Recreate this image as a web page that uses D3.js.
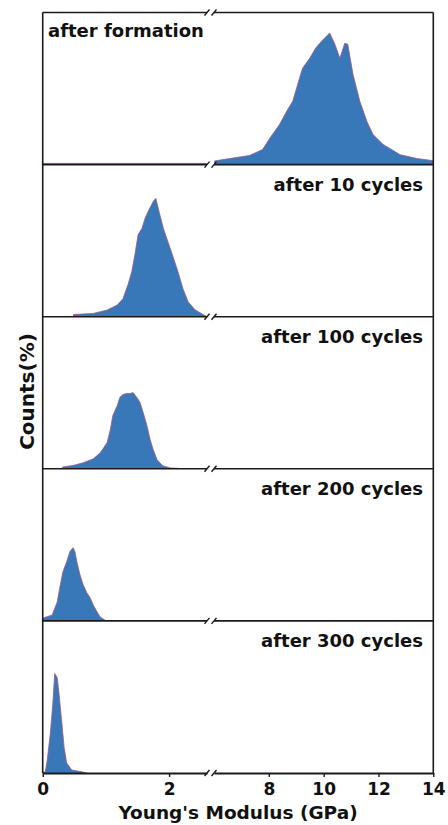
<!DOCTYPE html>
<html>
<head>
<meta charset="utf-8">
<script src="https://cdn.jsdelivr.net/npm/d3@7"></script>
<style>
  html, body { margin: 0; padding: 0; background: #fff; }
  svg text { font-family: "DejaVu Sans", sans-serif; font-weight: bold; fill: #111; }
</style>
</head>
<body>
<svg id="chart" width="448" height="825"></svg>
<script>
// ---- data ----
const panelLabels = ["after formation", "after 10 cycles", "after 100 cycles", "after 200 cycles", "after 300 cycles"];
const leftTicks = [0, 2];
const rightTicks = [8, 10, 12, 14];
const leftDomain = [0, 2.6];
const rightDomain = [6, 14];

const formationX = [0, 2.6, 6.01, 6.56, 7.29, 7.77, 8.03, 8.39, 8.65, 8.87, 9.12, 9.23, 9.49, 9.71, 9.93, 10.22, 10.41, 10.59, 10.77, 10.88, 11.07, 11.32, 11.58, 11.80, 12.17, 12.79, 13.41, 14];
const formationY = [0.04, 0.04, 0.12, 0.2, 0.3, 0.5, 0.87, 1.33, 1.77, 2.1, 2.87, 3.2, 3.53, 3.87, 4.1, 4.37, 4.0, 3.53, 4.03, 4.0, 3.0, 2.1, 1.43, 1.0, 0.67, 0.33, 0.2, 0.13];

const cycles10X = [0.48, 0.80, 1.02, 1.18, 1.27, 1.35, 1.41, 1.46, 1.51, 1.57, 1.62, 1.67, 1.75, 1.79, 1.84, 1.91, 1.98, 2.05, 2.14, 2.22, 2.30, 2.41, 2.54, 2.6];
const cycles10Y = [0.07, 0.11, 0.22, 0.39, 0.6, 1.07, 1.5, 2.07, 2.73, 2.93, 3.27, 3.5, 3.83, 3.93, 3.5, 2.93, 2.5, 2.07, 1.5, 0.93, 0.5, 0.23, 0.07, 0];

const cycles100X = [0.31, 0.48, 0.64, 0.80, 0.91, 1.02, 1.07, 1.11, 1.18, 1.22, 1.27, 1.33, 1.38, 1.43, 1.49, 1.54, 1.59, 1.65, 1.70, 1.75, 1.81, 1.90, 2.02, 2.17];
const cycles100Y = [0.06, 0.11, 0.2, 0.33, 0.53, 0.87, 1.3, 1.77, 2.1, 2.37, 2.47, 2.5, 2.5, 2.53, 2.37, 2.2, 1.87, 1.43, 0.97, 0.63, 0.3, 0.1, 0.03, 0.01];

const cycles200X = [0, 0.07, 0.15, 0.23, 0.27, 0.32, 0.38, 0.43, 0.48, 0.51, 0.54, 0.59, 0.64, 0.70, 0.75, 0.80, 0.86, 0.91, 0.99];
const cycles200Y = [0.09, 0.14, 0.2, 0.63, 1.1, 1.63, 1.97, 2.3, 2.43, 2.3, 1.97, 1.53, 1.2, 0.93, 0.77, 0.53, 0.3, 0.13, 0.02];

const cycles300X = [0, 0.04, 0.07, 0.12, 0.16, 0.19, 0.23, 0.26, 0.30, 0.34, 0.38, 0.46, 0.64, 0.70];
const cycles300Y = [0.03, 0.03, 0.4, 1.3, 2.3, 3.3, 3.17, 2.6, 1.73, 0.83, 0.33, 0.1, 0.03, 0];

const seriesX = [formationX, cycles10X, cycles100X, cycles200X, cycles300X];
const seriesY = [formationY, cycles10Y, cycles100Y, cycles200Y, cycles300Y];

// ---- layout ----
const svg = d3.select("#chart");
const L = 42.7, R = 433.3, T = 12.5, B = 773;
const breakL = 207, breakR = 214;
const xLeft = d3.scaleLinear().domain(leftDomain).range([L, breakL]);
const xRight = d3.scaleLinear().domain(rightDomain).range([breakR, R]);
const band = d3.scaleBand().domain(d3.range(panelLabels.length)).range([T, B]).padding(0);
const yMax = 5.05;

const fillColor = "#3878b8";
const edgeColor = "#9a5a8c";

panelLabels.forEach((label, i) => {
  const top = band(i), bottom = top + band.bandwidth();
  const y = d3.scaleLinear().domain([0, yMax]).range([bottom, top]);
  const pts = seriesX[i].map((x, k) => ({ x, v: seriesY[i][k] }));
  const segs = [
    { data: pts.filter(p => p.x <= leftDomain[1]), sx: xLeft },
    { data: pts.filter(p => p.x >= rightDomain[0]), sx: xRight }
  ];
  segs.forEach(s => {
    if (s.data.length < 2) return;
    const area = d3.area().x(p => s.sx(p.x)).y0(bottom).y1(p => y(p.v));
    const line = d3.line().x(p => s.sx(p.x)).y(p => y(p.v));
    svg.append("path").attr("d", area(s.data)).attr("fill", fillColor);
    svg.append("path").attr("d", line(s.data)).attr("fill", "none")
      .attr("stroke", edgeColor).attr("stroke-width", 0.8);
  });
  const t = svg.append("text").text(label).attr("font-size", 18)
    .attr("y", top + (i === 0 ? 24 : 26));
  if (i === 0) t.attr("x", 48).attr("text-anchor", "start");
  else t.attr("x", 423).attr("text-anchor", "end");
});

// ---- frame ----
const frame = svg.append("g").attr("stroke", "#1a1a1a").attr("stroke-width", 1.6).attr("fill", "none");
frame.append("line").attr("x1", L).attr("x2", L).attr("y1", T).attr("y2", B);
frame.append("line").attr("x1", R).attr("x2", R).attr("y1", T).attr("y2", B);
const hLines = d3.range(panelLabels.length).map(i => band(i)).concat([B]);
hLines.forEach(yy => {
  if (yy !== B) {
    frame.append("line").attr("x1", L).attr("x2", breakL).attr("y1", yy).attr("y2", yy);
    frame.append("line").attr("x1", breakR).attr("x2", R).attr("y1", yy).attr("y2", yy);
  }
  [breakL, breakR].forEach(bx => {
    frame.append("line").attr("x1", bx - 2.5).attr("y1", yy + 3).attr("x2", bx + 2.5).attr("y2", yy - 3)
      .attr("stroke-width", 1.4);
  });
});

// ---- bottom axes ----
function styleAxis(g) {
  g.select(".domain").attr("stroke", "#1a1a1a").attr("stroke-width", 1.8);
  g.selectAll(".tick line").attr("stroke", "#1a1a1a").attr("stroke-width", 1.4);
  g.selectAll(".tick text").attr("font-size", 17).attr("font-family", "DejaVu Sans").attr("font-weight", "bold").attr("fill", "#111");
}
svg.append("g").attr("transform", `translate(0,${B})`)
  .call(d3.axisBottom(xLeft).tickValues(leftTicks).tickSize(4).tickSizeOuter(0).tickPadding(6).tickFormat(d3.format("d")))
  .call(styleAxis);
svg.append("g").attr("transform", `translate(0,${B})`)
  .call(d3.axisBottom(xRight).tickValues(rightTicks).tickSize(4).tickSizeOuter(0).tickPadding(6).tickFormat(d3.format("d")))
  .call(styleAxis);

// ---- titles ----
svg.append("text").text("Young's Modulus (GPa)").attr("font-size", 18.5)
  .attr("x", 238).attr("y", 819).attr("text-anchor", "middle");
svg.append("text").text("Counts(%)").attr("font-size", 20)
  .attr("text-anchor", "middle")
  .attr("transform", "translate(33.5,391.5) rotate(-90)");
</script>
</body>
</html>
